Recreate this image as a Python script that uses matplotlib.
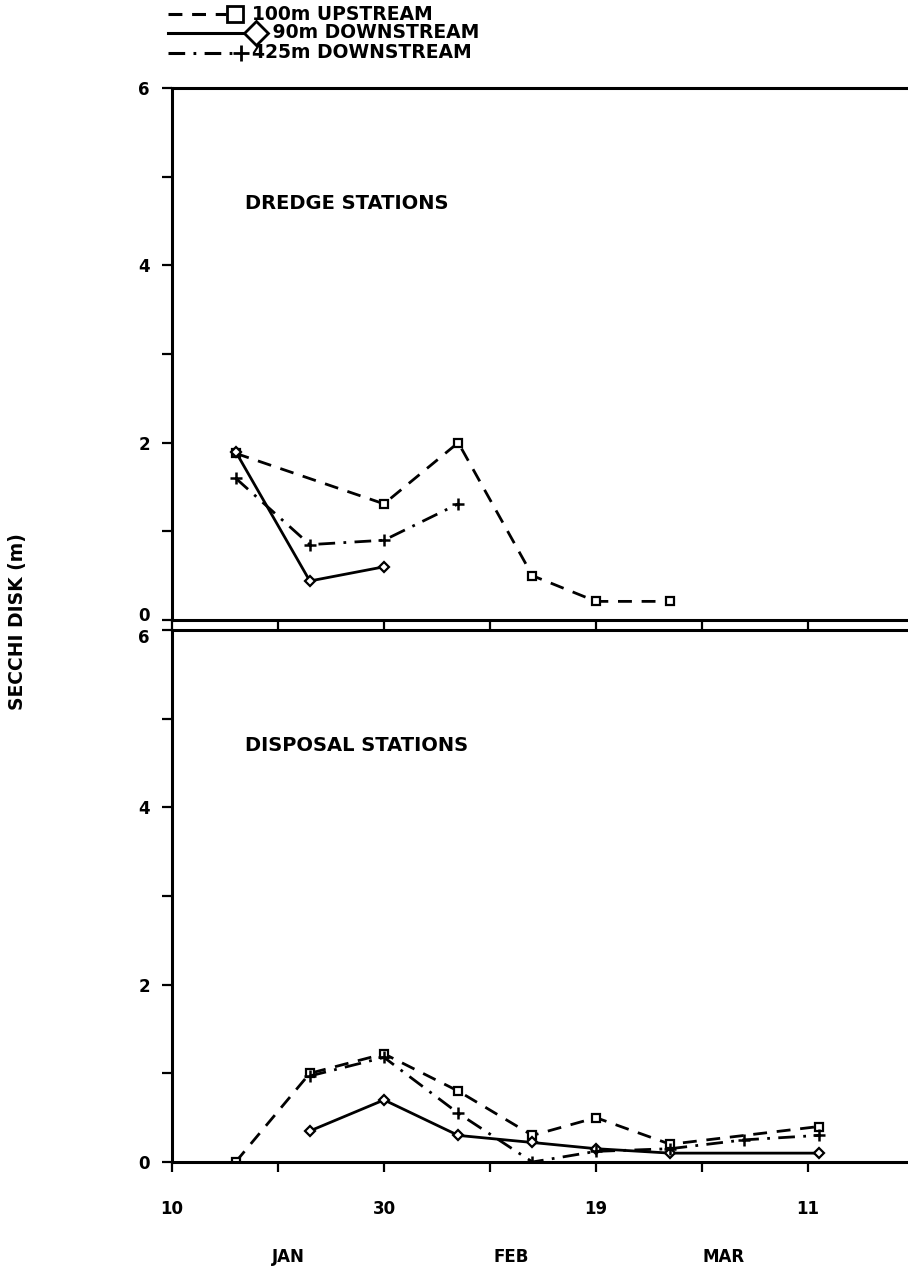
import matplotlib
matplotlib.use("Agg")
import matplotlib.pyplot as plt
import matplotlib.transforms as mtransforms
from matplotlib.lines import Line2D

plt.rcParams['font.family'] = ['DejaVu Sans']
plt.rcParams['font.weight'] = 'bold'
plt.rcParams['lines.scale_dashes'] = False

# days since 10 Jan
# dredge stations
dr_up_days = [6, 20, 27, 34, 40, 47]
dr_up_vals = [1.88, 1.31, 2.0, 0.5, 0.21, 0.21]
dr_90_days = [6, 13, 20]
dr_90_vals = [1.9, 0.44, 0.6]
dr_425_days = [6, 13, 20, 27]
dr_425_vals = [1.6, 0.85, 0.9, 1.31]

# disposal stations
dp_up_days = [6, 13, 20, 27, 34, 40, 47, 61]
dp_up_vals = [0.0, 1.0, 1.22, 0.8, 0.3, 0.5, 0.2, 0.4]
dp_90_days = [13, 20, 27, 34, 40, 47, 61]
dp_90_vals = [0.35, 0.7, 0.3, 0.22, 0.15, 0.1, 0.1]
dp_425_days = [13, 20, 27, 34, 40, 47, 54, 61]
dp_425_vals = [0.97, 1.18, 0.55, 0.0, 0.12, 0.15, 0.25, 0.3]

tick_days = [0, 20, 40, 60]
tick_labels = ["10", "30", "19", "11"]
months = ["JAN", "FEB", "MAR"]
month_days = [11, 32, 52]

legend_labels = ["100m UPSTREAM", " 90m DOWNSTREAM", "425m DOWNSTREAM"]

W, H = 908, 1267
fig = plt.figure(figsize=(W / 100, H / 100), dpi=100)


def fx(x):
    return x / W


def fy(y):
    return 1 - y / H


dash = (0, (10, 7))
dashdot = (0, (12, 6, 2, 6))
lw = 2.0

styles = {
    "up": dict(color="k", lw=lw, ls=dash, marker="s", ms=6, mfc="white", mec="k", mew=1.6),
    "90": dict(color="k", lw=lw, ls="-", marker="D", ms=5, mfc="white", mec="k", mew=1.6),
    "425": dict(color="k", lw=lw, ls=dashdot, marker="+", ms=8, mew=1.8),
}

left = fx(172)
axw = 1.0 - left + 0.002
axh = (620 - 88) / H
ax1 = fig.add_axes([left, fy(620), axw, axh])
ax2 = fig.add_axes([left, fy(1162), axw, axh])

ax1.plot(dr_up_days, dr_up_vals, **styles["up"])
ax1.plot(dr_90_days, dr_90_vals, **styles["90"])
ax1.plot(dr_425_days, dr_425_vals, **styles["425"])

ax2.plot(dp_up_days, dp_up_vals, **styles["up"])
ax2.plot(dp_90_days, dp_90_vals, **styles["90"])
ax2.plot(dp_425_days, dp_425_vals, **styles["425"])

for ax, title in [(ax1, "DREDGE STATIONS"), (ax2, "DISPOSAL STATIONS")]:
    ax.set_xlim(0, 69.6)
    ax.set_ylim(0, 6)
    ax.spines['right'].set_visible(False)
    for s in ['left', 'top', 'bottom']:
        ax.spines[s].set_linewidth(2.2)
    ax.set_yticks([0, 2, 4, 6])
    ax.set_yticks([1, 3, 5], minor=True)
    ax.set_xticks(tick_days)
    ax.set_xticks([10, 30, 50], minor=True)
    ax.tick_params(axis='both', which='both', direction='out', width=1.6, length=7,
                   labelsize=12, pad=9)
    ax.set_yticklabels(["0", "2", "4", "6"])
    ax.text(6.9, 4.7, title, fontsize=14, fontweight='bold', va='center', ha='left')

ax1.set_xticklabels([])
ax2.set_xticklabels(tick_labels)
ax2.tick_params(axis='x', which='major', pad=20)
for d, m in zip(month_days, months):
    ax2.text(d, -1.07, m, fontsize=12, fontweight='bold', ha='center', va='center')

# pull the touching "0" and "6" labels apart a little
up = mtransforms.ScaledTranslation(0, 4 / 72, fig.dpi_scale_trans)
down = mtransforms.ScaledTranslation(0, -4 / 72, fig.dpi_scale_trans)
t0 = ax1.get_yticklabels()[0]
t0.set_transform(t0.get_transform() + up)
t6 = ax2.get_yticklabels()[-1]
t6.set_transform(t6.get_transform() + down)

fig.text(fx(18), fy(622), "SECCHI DISK (m)", rotation=90, fontsize=13.5,
         fontweight='bold', ha='center', va='center')

# legend drawn at the top left
rows = [14, 33, 53]
keys = ["up", "90", "425"]
line_end = [226, 245, 234]
mk_x = [235, 256, 241]
mk_size = [11, 12, 12]
text_x = [252, 266, 252]
for r, k, le, mx, msz, tx, lab in zip(rows, keys, line_end, mk_x, mk_size, text_x,
                                      legend_labels):
    st = styles[k]
    fig.add_artist(Line2D([fx(168), fx(le)], [fy(r), fy(r)], color="k", lw=2.2,
                          ls=st["ls"], transform=fig.transFigure))
    fig.add_artist(Line2D([fx(mx)], [fy(r)], color="k", ls="none", marker=st["marker"],
                          ms=msz, mfc="white", mec="k", mew=2.0, transform=fig.transFigure))
    fig.text(fx(tx), fy(r), lab, fontsize=13.5, fontweight='bold', va='center', ha='left')

fig.savefig("out.png", dpi=100, facecolor="white")
